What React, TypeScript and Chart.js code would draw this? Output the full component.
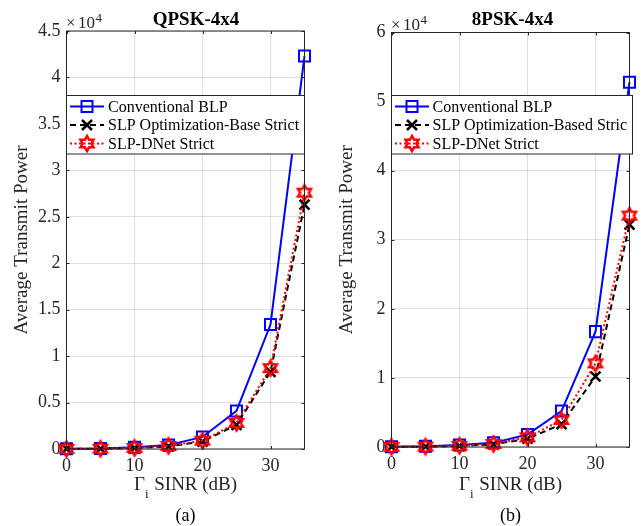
import React, { useEffect, useRef } from "react";
import { Chart, registerables } from "chart.js";

Chart.register(...registerables);

// ---------------- data ----------------
const SINR_DB = [0, 5, 10, 15, 20, 25, 30, 35];
const X_TICKS = [0, 10, 20, 30];

const QPSK_BLP = [30, 60, 200, 420, 1300, 4100, 13400, 42300];
const QPSK_SLP_OPT = [10, 30, 100, 280, 800, 2600, 8300, 26300];
const QPSK_SLP_DNET = [12, 35, 120, 330, 900, 2800, 8700, 27600];

const PSK8_BLP = [50, 100, 300, 600, 1800, 5200, 16700, 52800];
const PSK8_SLP_OPT = [20, 50, 150, 380, 1200, 3300, 10200, 32200];
const PSK8_SLP_DNET = [25, 60, 180, 450, 1400, 3900, 12100, 33500];

const QPSK_LABELS = ["Conventional BLP", "SLP Optimization-Base Strict", "SLP-DNet Strict"];
const PSK8_LABELS = ["Conventional BLP", "SLP Optimization-Based Stric", "SLP-DNet Strict"];

const QPSK_Y_MAX = 45000;
const QPSK_Y_STEP = 5000;
const PSK8_Y_MAX = 60000;
const PSK8_Y_STEP = 10000;
const Y_EXPONENT = 4;

// ---------------- styles ----------------
const FONT = "'Liberation Serif', 'DejaVu Serif', serif";
const AXIS = "#262626";
const GRID = "rgba(0,0,0,0.12)";
const BLUE = "#0000ff";
const RED = "#ff0000";
const BLACK = "#000000";

type Marker = "rect" | "crossRot" | "hexagram";
type Style = { color: string; dash: number[]; width: number; marker: Marker };

const STYLES: Style[] = [
  { color: BLUE, dash: [], width: 2, marker: "rect" },
  { color: BLACK, dash: [6, 4], width: 2, marker: "crossRot" },
  { color: RED, dash: [2, 2.5], width: 2, marker: "hexagram" },
];

function drawHexagram(ctx: CanvasRenderingContext2D, x: number, y: number, r: number, color: string, lw: number) {
  ctx.save();
  ctx.strokeStyle = color;
  ctx.lineWidth = lw;
  ctx.setLineDash([]);
  ctx.lineJoin = "miter";
  ctx.beginPath();
  for (let k = 0; k < 12; k++) {
    const ang = -Math.PI / 2 + (k * Math.PI) / 6;
    const rr = k % 2 === 0 ? r : r / Math.sqrt(3);
    const px = x + rr * Math.cos(ang);
    const py = y + rr * Math.sin(ang);
    if (k === 0) ctx.moveTo(px, py);
    else ctx.lineTo(px, py);
  }
  ctx.closePath();
  ctx.stroke();
  ctx.restore();
}

function hexagramImage(): HTMLCanvasElement {
  const s = 22;
  const c = document.createElement("canvas");
  c.width = s;
  c.height = s;
  const ctx = c.getContext("2d")!;
  drawHexagram(ctx, s / 2, s / 2, 7.5, RED, 2.5);
  return c;
}

function drawMarker(ctx: CanvasRenderingContext2D, m: Marker, x: number, y: number, color: string) {
  ctx.save();
  ctx.setLineDash([]);
  ctx.strokeStyle = color;
  if (m === "rect") {
    ctx.lineWidth = 2;
    ctx.strokeRect(x - 5.5, y - 5.5, 11, 11);
  } else if (m === "crossRot") {
    ctx.lineWidth = 2.5;
    const d = 5;
    ctx.beginPath();
    ctx.moveTo(x - d, y - d);
    ctx.lineTo(x + d, y + d);
    ctx.moveTo(x - d, y + d);
    ctx.lineTo(x + d, y - d);
    ctx.stroke();
  } else {
    drawHexagram(ctx, x, y, 7.5, color, 2.5);
  }
  ctx.restore();
}

type PanelCfg = {
  canvasLeft: number;
  canvasWidth: number;
  area: { left: number; right: number; top: number; bottom: number };
  yMax: number;
  yStep: number;
  series: number[][];
  labels: string[];
  title: string;
  titleX: number;
  caption: string;
  legend: { left: number; right: number; top: number; bottom: number; s0: number; s1: number; tx: number; rows: number[] };
  ylabelX: number;
};

const HEIGHT = 526;

const PANELS: PanelCfg[] = [
  {
    canvasLeft: 0,
    canvasWidth: 322,
    area: { left: 66.5, right: 304.5, top: 31, bottom: 449 },
    yMax: QPSK_Y_MAX,
    yStep: QPSK_Y_STEP,
    series: [QPSK_BLP, QPSK_SLP_OPT, QPSK_SLP_DNET],
    labels: QPSK_LABELS,
    title: "QPSK-4x4",
    titleX: 196,
    caption: "(a)",
    legend: { left: 66.5, right: 304.5, top: 95.5, bottom: 154, s0: 70, s1: 104, tx: 108, rows: [106.5, 125, 143.5] },
    ylabelX: 22,
  },
  {
    canvasLeft: 322,
    canvasWidth: 321,
    area: { left: 391.5, right: 629.5, top: 32.5, bottom: 447 },
    yMax: PSK8_Y_MAX,
    yStep: PSK8_Y_STEP,
    series: [PSK8_BLP, PSK8_SLP_OPT, PSK8_SLP_DNET],
    labels: PSK8_LABELS,
    title: "8PSK-4x4",
    titleX: 512.5,
    caption: "(b)",
    legend: { left: 391.5, right: 632.5, top: 95.5, bottom: 154, s0: 395, s1: 429, tx: 432.5, rows: [106.5, 125, 143.5] },
    ylabelX: 347,
  },
];

function makeDeco(cfg: PanelCfg) {
  return {
    id: "deco",
    afterDraw(chart: any) {
      const ctx: CanvasRenderingContext2D = chart.ctx;
      const off = cfg.canvasLeft;
      const { left, right, top, bottom } = chart.chartArea;
      ctx.save();
      // box
      ctx.setLineDash([]);
      ctx.strokeStyle = AXIS;
      ctx.lineWidth = 1;
      ctx.strokeRect(left, top, right - left, bottom - top);
      // inward ticks
      const xs = chart.scales.x;
      const ys = chart.scales.y;
      const tl = 3;
      ctx.beginPath();
      xs.ticks.forEach((t: any) => {
        const px = Math.round(xs.getPixelForValue(t.value)) + 0.5;
        ctx.moveTo(px, bottom);
        ctx.lineTo(px, bottom - tl);
        ctx.moveTo(px, top);
        ctx.lineTo(px, top + tl);
      });
      ys.ticks.forEach((t: any) => {
        const py = Math.round(ys.getPixelForValue(t.value)) + 0.5;
        ctx.moveTo(left, py);
        ctx.lineTo(left + tl, py);
        ctx.moveTo(right, py);
        ctx.lineTo(right - tl, py);
      });
      ctx.stroke();

      // legend
      const lg = cfg.legend;
      ctx.fillStyle = "#ffffff";
      ctx.fillRect(lg.left - off, lg.top, lg.right - lg.left, lg.bottom - lg.top);
      ctx.strokeStyle = AXIS;
      ctx.lineWidth = 1;
      ctx.strokeRect(lg.left - off, lg.top, lg.right - lg.left, lg.bottom - lg.top);
      cfg.labels.forEach((lab, i) => {
        const st = STYLES[i];
        const y = lg.rows[i];
        ctx.save();
        ctx.strokeStyle = st.color;
        ctx.lineWidth = st.width;
        ctx.setLineDash(st.dash);
        ctx.beginPath();
        ctx.moveTo(lg.s0 - off, y);
        ctx.lineTo(lg.s1 - off, y);
        ctx.stroke();
        ctx.restore();
        drawMarker(ctx, st.marker, (lg.s0 + lg.s1) / 2 - off, y, st.color);
        ctx.fillStyle = "#000";
        ctx.font = `16px ${FONT}`;
        ctx.textAlign = "left";
        ctx.textBaseline = "middle";
        ctx.fillText(lab, lg.tx - off, y + 1);
      });

      // title
      ctx.fillStyle = "#000";
      ctx.font = `bold 19px ${FONT}`;
      ctx.textAlign = "center";
      ctx.textBaseline = "alphabetic";
      ctx.fillText(cfg.title, cfg.titleX - off, 25);

      // exponent (x10^4)
      ctx.fillStyle = AXIS;
      ctx.textAlign = "left";
      ctx.font = `17px ${FONT}`;
      const baseY = top - 3;
      ctx.fillText("\u00d7", left - 0.5, baseY);
      ctx.fillText("10", left + 11.5, baseY);
      const w10 = ctx.measureText("10").width;
      ctx.font = `13px ${FONT}`;
      ctx.fillText(String(Y_EXPONENT), left + 11.5 + w10 + 0.5, baseY - 6);

      // x label with subscript
      const cx = (left + right) / 2;
      ctx.font = `19px ${FONT}`;
      const wG = ctx.measureText("\u0393").width;
      ctx.font = `13px ${FONT}`;
      const wi = ctx.measureText("i").width;
      ctx.font = `19px ${FONT}`;
      const rest = " SINR (dB)";
      const wr = ctx.measureText(rest).width;
      const total = wG + wi + 1 + wr;
      let sx = cx - total / 2;
      const by = 489.5;
      ctx.fillStyle = AXIS;
      ctx.fillText("\u0393", sx, by);
      sx += wG;
      ctx.font = `13px ${FONT}`;
      ctx.fillText("i", sx, by + 8);
      sx += wi + 1;
      ctx.font = `19px ${FONT}`;
      ctx.fillText(rest, sx, by);

      // caption
      ctx.fillStyle = "#000";
      ctx.font = `18px ${FONT}`;
      ctx.textAlign = "center";
      ctx.fillText(cfg.caption, cx, 521);

      // y label
      ctx.save();
      ctx.fillStyle = AXIS;
      ctx.translate(cfg.ylabelX - off, (top + bottom) / 2);
      ctx.rotate(-Math.PI / 2);
      ctx.font = `19px ${FONT}`;
      ctx.textAlign = "center";
      ctx.textBaseline = "middle";
      ctx.fillText("Average Transmit Power", 0, 0);
      ctx.restore();

      ctx.restore();
    },
  };
}

function Panel({ cfg }: { cfg: PanelCfg }) {
  const ref = useRef<HTMLCanvasElement | null>(null);
  useEffect(() => {
    if (!ref.current) return;
    const hex = hexagramImage();
    const yAxisWidth = cfg.area.left - cfg.canvasLeft;
    const xAxisHeight = HEIGHT - cfg.area.bottom;
    const padRight = cfg.canvasWidth - (cfg.area.right - cfg.canvasLeft);
    const datasets = cfg.series.map((vals, i) => {
      const st = STYLES[i];
      return {
        label: cfg.labels[i],
        data: SINR_DB.map((x, k) => ({ x, y: vals[k] })),
        borderColor: st.color,
        borderWidth: st.width,
        borderDash: st.dash,
        pointStyle: st.marker === "hexagram" ? hex : st.marker,
        pointRadius: st.marker === "rect" ? 7.8 : 7,
        pointBorderWidth: st.marker === "rect" ? 2 : 2.5,
        pointBorderColor: st.color,
        pointBackgroundColor: "rgba(0,0,0,0)",
        tension: 0,
        fill: false,
        clip: false as any,
        order: 2 - i,
      };
    });
    const chart = new Chart(ref.current, {
      type: "line",
      data: { datasets },
      plugins: [makeDeco(cfg)],
      options: {
        animation: false,
        responsive: false,
        devicePixelRatio: 1,
        layout: { padding: { left: 0, right: padRight, top: cfg.area.top, bottom: 0 } },
        plugins: { legend: { display: false }, tooltip: { enabled: false }, title: { display: false } },
        scales: {
          x: {
            type: "linear",
            min: 0,
            max: 35,
            afterFit: (s: any) => {
              s.height = xAxisHeight;
            },
            afterBuildTicks: (s: any) => {
              s.ticks = X_TICKS.map((v) => ({ value: v }));
            },
            ticks: {
              font: { family: FONT, size: 18 },
              color: AXIS,
              padding: 6,
              maxRotation: 0,
              autoSkip: false,
              includeBounds: false,
              callback: (v: any) => String(v),
            },
            grid: { color: GRID, drawTicks: false, lineWidth: 1 },
            border: { display: false },
          },
          y: {
            type: "linear",
            min: 0,
            max: cfg.yMax,
            afterFit: (s: any) => {
              s.width = yAxisWidth;
            },
            ticks: {
              stepSize: cfg.yStep,
              font: { family: FONT, size: 18 },
              color: AXIS,
              padding: 6,
              callback: (v: any) => String(+(Number(v) / Math.pow(10, Y_EXPONENT)).toFixed(1)),
            },
            grid: { color: GRID, drawTicks: false, lineWidth: 1 },
            border: { display: false },
          },
        },
      },
    });
    return () => chart.destroy();
  }, [cfg]);
  return (
    <canvas
      ref={ref}
      width={cfg.canvasWidth}
      height={HEIGHT}
      style={{ position: "absolute", left: cfg.canvasLeft, top: 0, width: cfg.canvasWidth, height: HEIGHT }}
    />
  );
}

export default function App() {
  return (
    <div style={{ position: "absolute", left: 0, top: 0, width: 643, height: HEIGHT, background: "#fff" }}>
      {PANELS.map((p, i) => (
        <Panel key={i} cfg={p} />
      ))}
    </div>
  );
}
